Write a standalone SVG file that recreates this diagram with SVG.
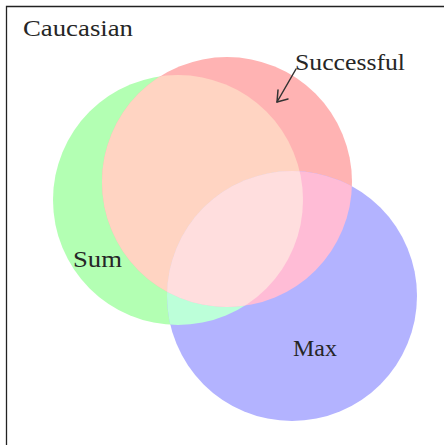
<svg xmlns="http://www.w3.org/2000/svg" width="444" height="445" viewBox="0 0 444 445">
  <style>
    .lbl { font-family: "Liberation Serif", "Times New Roman", serif; font-size: 24px; fill: #262626; }
    .frame { fill: none; stroke: #222; stroke-width: 1.3; }
    .conn { fill: none; stroke: #333; stroke-width: 1.5; stroke-linecap: round; stroke-linejoin: round; }
  </style>
  <defs>
    <circle id="cG" cx="178" cy="200" r="125"/>
    <circle id="cR" cx="227" cy="182" r="125"/>
    <circle id="cB" cx="292" cy="296" r="125"/>
    <clipPath id="clipG"><use href="#cG"/></clipPath>
    <clipPath id="clipR"><use href="#cR"/></clipPath>
    <clipPath id="clipB"><use href="#cB"/></clipPath>
  </defs>
  <rect width="444" height="445" fill="#ffffff"/>
  <path class="frame" d="M6.5,445 V6.5 H444"/>
  <text id="title" class="lbl" x="23" y="36" textLength="110" lengthAdjust="spacingAndGlyphs">Caucasian</text>

  <g id="set-sum">
    <use href="#cG" fill="#b3ffb3"/>
  </g>
  <g id="set-successful">
    <use href="#cR" fill="#ffb3b3"/>
  </g>
  <g id="set-max">
    <use href="#cB" fill="#b3b3ff"/>
  </g>
  <g id="overlaps">
    <use href="#cR" fill="#ffd4c2" clip-path="url(#clipG)"/>
    <use href="#cB" fill="#bcffd9" clip-path="url(#clipG)"/>
    <use href="#cB" fill="#ffbcd6" clip-path="url(#clipR)"/>
    <g clip-path="url(#clipG)">
      <use href="#cB" fill="#ffdede" clip-path="url(#clipR)"/>
    </g>
  </g>

  <g id="label-sum"><text class="lbl" x="73" y="267" textLength="49" lengthAdjust="spacingAndGlyphs">Sum</text></g>
  <g id="label-max"><text class="lbl" x="293" y="356" textLength="44" lengthAdjust="spacingAndGlyphs">Max</text></g>
  <g id="label-successful"><text class="lbl" x="295" y="70" textLength="110" lengthAdjust="spacingAndGlyphs">Successful</text></g>

  <g id="connectors">
    <path class="conn" d="M296,69 L277,102"/>
    <path class="conn" d="M278,90 L277,102 L288,99"/>
  </g>
</svg>
